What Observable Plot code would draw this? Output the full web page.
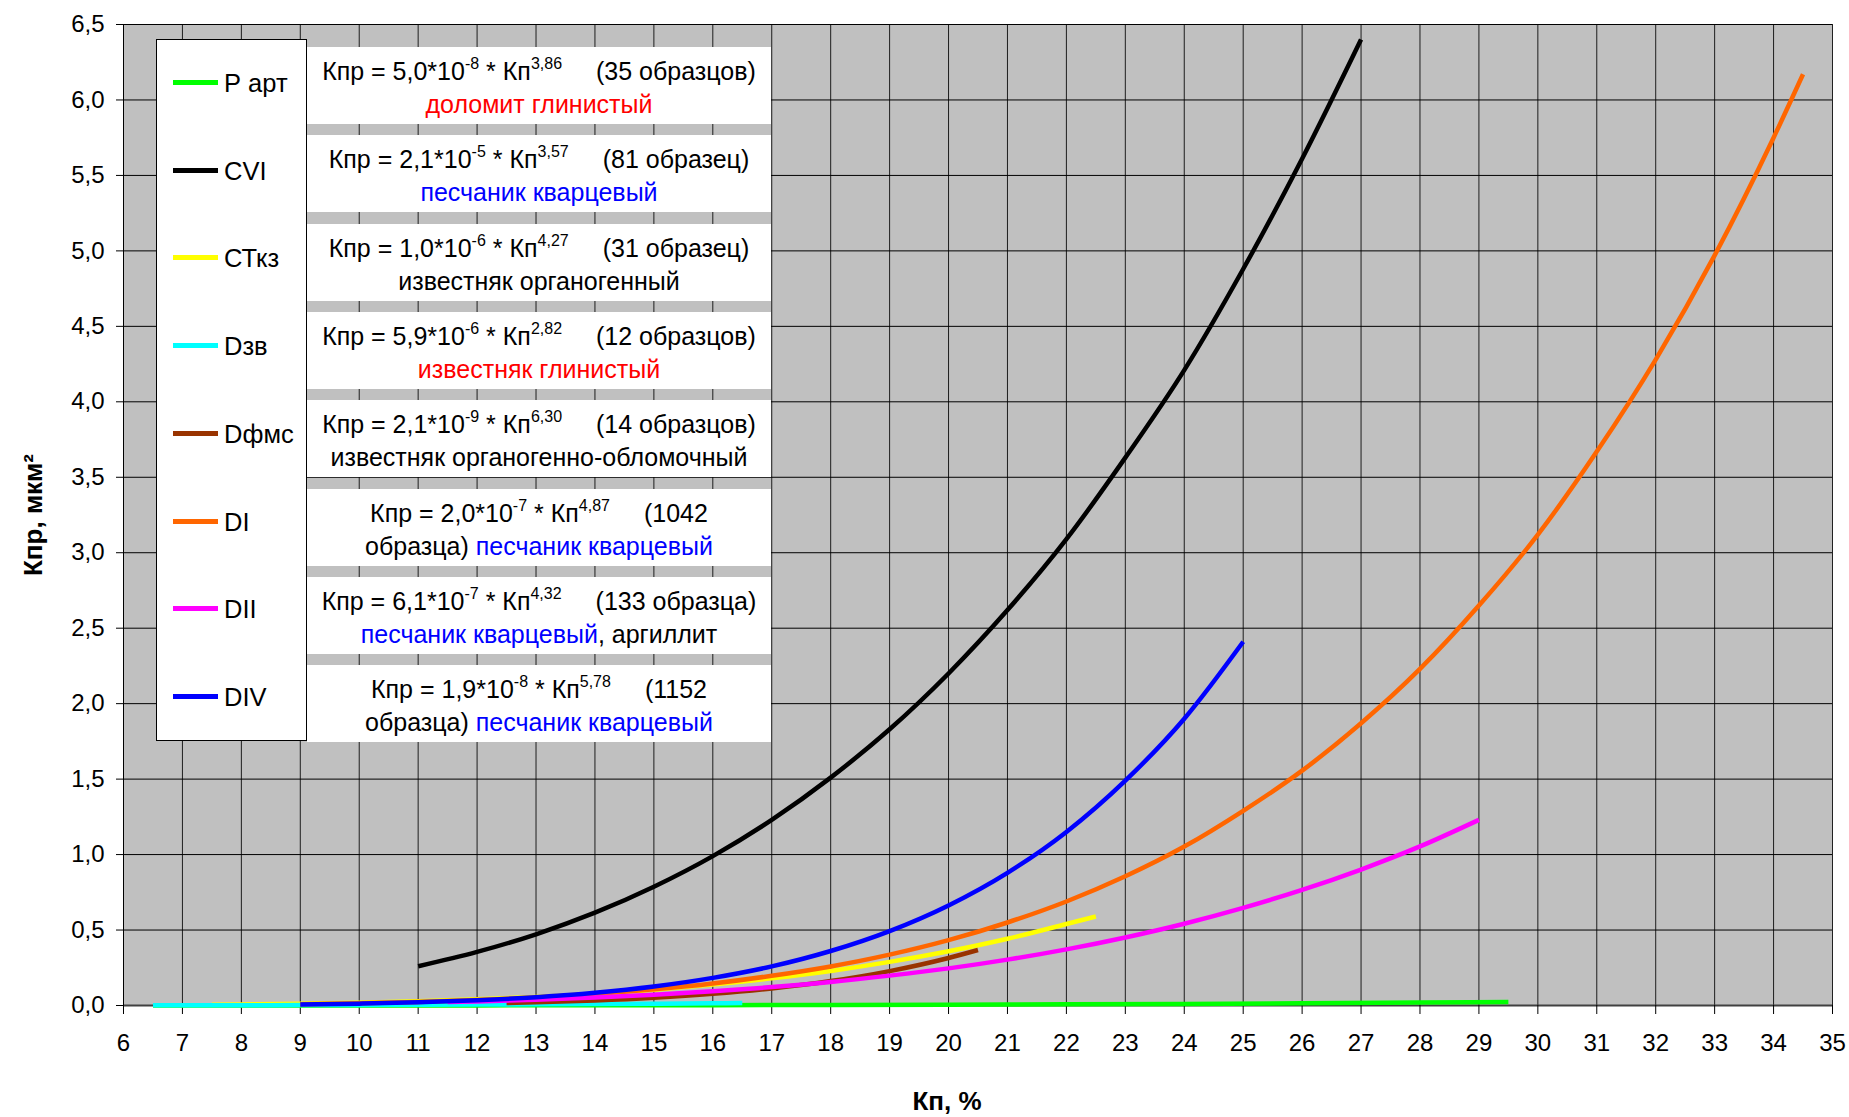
<!DOCTYPE html>
<html>
<head>
<meta charset="utf-8">
<script src="https://cdn.jsdelivr.net/npm/d3@7"></script>
<script src="https://cdn.jsdelivr.net/npm/@observablehq/plot@0.6"></script>
<style>
  html, body { margin: 0; padding: 0; background: #fff; }
  body { font-family: "Liberation Sans", Arial, sans-serif; }
  #wrap { position: relative; width: 1849px; height: 1117px; overflow: hidden; }
  #wrap svg { position: absolute; left: 0; top: 0; }
  .ov { position: absolute; }
  #legend { left: 156px; top: 39px; width: 151px; height: 702px; background: #fff; border: 1px solid #000; box-sizing: border-box; }
  .lg-item { position: absolute; left: 0; height: 30px; }
  .lg-line { position: absolute; left: 16px; width: 45px; height: 5px; top: 12px; }
  .lg-text { position: absolute; left: 67px; top: 0; line-height: 30px; font-size: 25.5px; color: #000; white-space: nowrap; }
  .eq { left: 307px; width: 464px; height: 77px; background: #fff; text-align: center; font-size: 25px; line-height: 33px; padding-top: 8px; box-sizing: border-box; color: #000; white-space: nowrap; }
  .eq sup { font-size: 16px; vertical-align: baseline; position: relative; top: -11px; line-height: 0; }
  .cnt { margin-left: 34px; }
  .red { color: #ff0000; }
  .blue { color: #0000ff; }
  .title { font-weight: bold; font-size: 26px; color: #000; white-space: nowrap; }
</style>
</head>
<body>
<div id="wrap"></div>
<script>
// ---------- data ----------
const seriesNames = ["Р арт", "CVI", "СТкз", "Dзв", "Dфмс", "DI", "DII", "DIV"];
const seriesColors = ["#00ff00", "#000000", "#ffff00", "#00ffff", "#993300", "#ff6600", "#ff00ff", "#0000ff"];

const kpPArt  = [6.5, 8, 10, 12, 14, 16, 18, 20, 22, 24, 26, 28, 29.5];
const kprPArt = [0.0001, 0.0002, 0.0004, 0.0007, 0.0013, 0.0022, 0.0035, 0.0053, 0.0076, 0.0106, 0.0145, 0.0193, 0.0236];

const kpCVI  = [11, 12, 13, 14, 15, 16, 17, 18, 19, 20, 21, 22, 23, 24, 25, 26, 27];
const kprCVI = [0.26, 0.355, 0.472, 0.615, 0.787, 0.99, 1.23, 1.51, 1.83, 2.20, 2.62, 3.09, 3.63, 4.21, 4.88, 5.61, 6.4];

const kpCTkz  = [7.5, 8, 9, 10, 11, 12, 13, 14, 15, 16, 17, 18, 19, 20, 21, 22, 22.5];
const kprCTkz = [0.0055, 0.0072, 0.0119, 0.0186, 0.028, 0.0406, 0.057, 0.078, 0.105, 0.139, 0.180, 0.229, 0.289, 0.359, 0.442, 0.54, 0.59];

const kpDzv  = [6.5, 7, 8, 9, 10, 11, 12, 13, 14, 15, 16, 16.5];
const kprDzv = [0.0012, 0.0014, 0.0021, 0.0029, 0.0039, 0.0051, 0.0065, 0.0082, 0.0101, 0.0122, 0.0147, 0.016];

const kpDfms  = [12.5, 13, 14, 15, 16, 17, 18, 19, 20, 20.5];
const kprDfms = [0.0163, 0.0208, 0.0333, 0.0514, 0.0772, 0.113, 0.162, 0.228, 0.315, 0.368];

const kpDI  = [9, 10, 11, 12, 13, 14, 15, 16, 17, 18, 19, 20, 21, 22, 23, 24, 25, 26, 27, 28, 29, 30, 31, 32, 33, 34, 34.5];
const kprDI = [0.0089, 0.0148, 0.0236, 0.036, 0.053, 0.076, 0.107, 0.146, 0.197, 0.259, 0.337, 0.433, 0.550, 0.689, 0.856, 1.053, 1.29, 1.556, 1.87, 2.23, 2.65, 3.12, 3.67, 4.28, 4.97, 5.75, 6.17];

const kpDII  = [11.5, 12, 13, 14, 15, 16, 17, 18, 19, 20, 21, 22, 23, 24, 25, 26, 27, 28, 29];
const kprDII = [0.0225, 0.0271, 0.0382, 0.0527, 0.071, 0.094, 0.122, 0.156, 0.198, 0.246, 0.304, 0.372, 0.451, 0.542, 0.647, 0.766, 0.901, 1.054, 1.23];

const kpDIV  = [9, 10, 11, 12, 13, 14, 15, 16, 17, 18, 19, 20, 21, 22, 23, 24, 25];
const kprDIV = [0.0066, 0.0121, 0.0209, 0.0346, 0.055, 0.0844, 0.126, 0.183, 0.259, 0.361, 0.493, 0.663, 0.879, 1.15, 1.49, 1.90, 2.41];

const xTicks = [6, 7, 8, 9, 10, 11, 12, 13, 14, 15, 16, 17, 18, 19, 20, 21, 22, 23, 24, 25, 26, 27, 28, 29, 30, 31, 32, 33, 34, 35];
const yTicks = [0, 0.5, 1, 1.5, 2, 2.5, 3, 3.5, 4, 4.5, 5, 5.5, 6, 6.5];

const xTitle = "Кп, %";
const yTitle = "Кпр, мкм²";

// equation boxes
const eqCoef  = ["5,0", "2,1", "1,0", "5,9", "2,1", "2,0", "6,1", "1,9"];
const eqPow   = ["-8", "-5", "-6", "-6", "-9", "-7", "-7", "-8"];
const eqExp   = ["3,86", "3,57", "4,27", "2,82", "6,30", "4,87", "4,32", "5,78"];
const eqCount = ["35 образцов", "81 образец", "31 образец", "12 образцов", "14 образцов", "1042 образца", "133 образца", "1152 образца"];
const eqRock  = ["доломит глинистый", "песчаник кварцевый", "известняк органогенный", "известняк глинистый",
                 "известняк органогенно-обломочный", "песчаник кварцевый", "песчаник кварцевый", "песчаник кварцевый"];
const eqRockExtra = ["", "", "", "", "", "", ", аргиллит", ""];
const eqRockColor = ["red", "blue", "", "red", "", "blue", "blue", "blue"];
const eqWrapCount = [false, false, false, false, false, true, false, true];

// ---------- build ----------
const kpAll  = [kpPArt, kpCVI, kpCTkz, kpDzv, kpDfms, kpDI, kpDII, kpDIV];
const kprAll = [kprPArt, kprCVI, kprCTkz, kprDzv, kprDfms, kprDI, kprDII, kprDIV];
const series = seriesNames.map((name, i) => kpAll[i].map((kp, j) => ({name, kp, kpr: kprAll[i][j]})));

const fmtY = d => d.toFixed(1).replace(".", ",");

const chart = Plot.plot({
  width: 1849,
  height: 1117,
  marginLeft: 123,
  marginRight: 17,
  marginTop: 24,
  marginBottom: 112,
  style: {fontFamily: "'Liberation Sans', Arial, sans-serif", fontSize: "24px", color: "#000", background: "transparent"},
  x: {domain: [6, 35]},
  y: {domain: [0, 6.5]},
  marks: [
    Plot.frame({fill: "#c0c0c0", stroke: null}),
    Plot.gridX(xTicks, {stroke: "#000", strokeOpacity: 0.85, strokeWidth: 1}),
    Plot.gridY(yTicks, {stroke: "#000", strokeOpacity: 1, strokeWidth: 1}),
    Plot.ruleY([0], {stroke: "#404040", strokeWidth: 2}),
    Plot.ruleX([6], {stroke: "#000", strokeWidth: 1}),
    Plot.axisX(xTicks, {tickSize: 9, tickPadding: 19, fontSize: 24, label: null, stroke: "#000"}),
    Plot.axisY(yTicks, {tickSize: 7, tickPadding: 12, fontSize: 24, label: null, tickFormat: fmtY, stroke: "#000"}),
    ...series.map((data, i) => Plot.line(data, {
      x: "kp", y: "kpr", stroke: seriesColors[i], strokeWidth: 4.5,
      curve: "monotone-x", strokeLinecap: "butt", strokeLinejoin: "round"
    }))
  ]
});

const wrap = document.getElementById("wrap");
wrap.appendChild(chart);

// legend
const legend = document.createElement("div");
legend.id = "legend";
legend.className = "ov";
seriesNames.forEach((name, i) => {
  const item = document.createElement("div");
  item.className = "lg-item";
  item.style.top = (43 - 15 + i * 87.7) + "px";
  item.style.width = "149px";
  const ln = document.createElement("div");
  ln.className = "lg-line";
  ln.style.background = seriesColors[i];
  const tx = document.createElement("div");
  tx.className = "lg-text";
  tx.textContent = name;
  item.appendChild(ln);
  item.appendChild(tx);
  legend.appendChild(item);
});
wrap.appendChild(legend);

// equation boxes
eqCoef.forEach((c, i) => {
  const box = document.createElement("div");
  box.className = "ov eq";
  box.style.top = (47 + i * 88.3) + "px";
  const formula = `Кпр = ${c}*10<sup>${eqPow[i]}</sup> * Кп<sup>${eqExp[i]}</sup>`;
  const rock = `<span class="${eqRockColor[i]}">${eqRock[i]}</span>${eqRockExtra[i]}`;
  if (eqWrapCount[i]) {
    const parts = eqCount[i].split(" ");
    box.innerHTML = `<div>${formula}<span class="cnt">(${parts[0]}</span></div><div>${parts[1]}) ${rock}</div>`;
  } else {
    box.innerHTML = `<div>${formula}<span class="cnt">(${eqCount[i]})</span></div><div>${rock}</div>`;
  }
  wrap.appendChild(box);
});

// axis titles
const xt = document.createElement("div");
xt.className = "ov title";
xt.textContent = xTitle;
xt.style.left = "947px";
xt.style.top = "1101px";
xt.style.transform = "translate(-50%, -50%)";
wrap.appendChild(xt);

const yt = document.createElement("div");
yt.className = "ov title";
yt.textContent = yTitle;
yt.style.left = "33px";
yt.style.top = "515px";
yt.style.transform = "translate(-50%, -50%) rotate(-90deg)";
wrap.appendChild(yt);
</script>
</body>
</html>
